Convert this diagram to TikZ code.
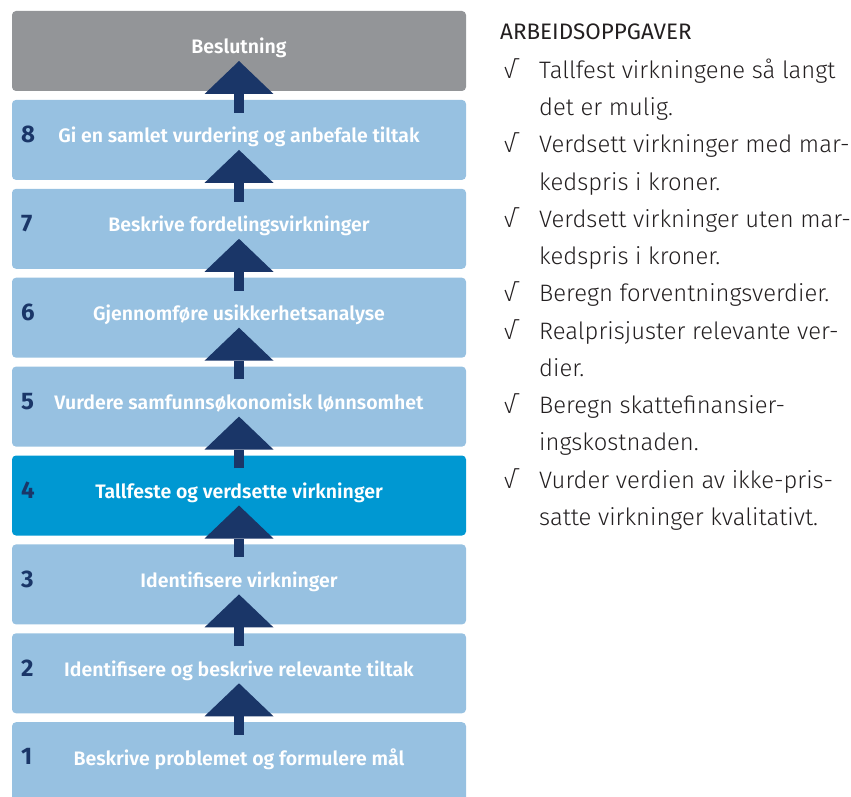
\documentclass[tikz,border=0pt]{standalone}
\usepackage{fontspec}
\setmainfont{Fira Sans}
\newfontfamily\boxfont{Fira Sans SemiBold}
\newfontfamily\listfont{Fira Sans Light}
\usepackage{tikz}
\usetikzlibrary{shapes,arrows.meta,positioning,calc}
\definecolor{stepblue}{HTML}{97C1E1}
\definecolor{stepactive}{HTML}{0098D2}
\definecolor{stepgray}{HTML}{939598}
\definecolor{stepnavy}{HTML}{1A3668}
\definecolor{tasktext}{HTML}{231F20}
\tikzstyle{stepbox} = [rectangle, rounded corners=4pt, fill=stepblue, minimum width=454pt,
    minimum height=80pt, inner sep=0pt, text=white, font=\boxfont\fontsize{19.5}{23}\selectfont,
    text height=14.6pt, text depth=8.8pt]
\tikzstyle{stepnum} = [anchor=base west, inner sep=0pt, text=stepnavy, font=\bfseries\fontsize{24}{28}\selectfont]
\tikzstyle{uparrow} = [-{Triangle[width=69pt,length=33pt,line width=0pt]}, line width=10pt, stepnavy]
\tikzstyle{tasklist} = [anchor=base west, inner sep=0pt, text=tasktext, font=\listfont\fontsize{23.8}{37.25}\selectfont]

\begin{document}
\begin{tikzpicture}[x=1pt, y=1pt, node distance=8.5pt]
\useasboundingbox (0,0) rectangle (851,-797);
\node[stepbox, fill=stepgray] (beslut) at (239,-51) {Beslutning};
\node[stepbox, below=of beslut] (s8) {Gi en samlet vurdering og anbefale tiltak};
\node[stepbox, below=of s8] (s7) {Beskrive fordelingsvirkninger};
\node[stepbox, below=of s7] (s6) {Gjennomføre usikkerhetsanalyse};
\node[stepbox, below=of s6] (s5) {Vurdere samfunnsøkonomisk lønnsomhet};
\node[stepbox, below=of s5, fill=stepactive] (s4) {Tallfeste og verdsette virkninger};
\node[stepbox, below=of s4] (s3) {Identifisere virkninger};
\node[stepbox, below=of s3] (s2) {Identifisere og beskrive relevante tiltak};
\node[stepbox, below=of s2] (s1) {Beskrive problemet og formulere mål};

\node[stepnum] (n8) at ($(s8.west)+(9,-2.7)$) {8};
\node[stepnum] (n7) at ($(s7.west)+(9,-2.7)$) {7};
\node[stepnum] (n6) at ($(s6.west)+(9,-2.7)$) {6};
\node[stepnum] (n5) at ($(s5.west)+(9,-2.7)$) {5};
\node[stepnum] (n4) at ($(s4.west)+(9,-2.7)$) {4};
\node[stepnum] (n3) at ($(s3.west)+(9,-2.7)$) {3};
\node[stepnum] (n2) at ($(s2.west)+(9,-2.7)$) {2};
\node[stepnum] (n1) at ($(s1.west)+(9,-2.7)$) {1};

% steps lead upwards to the decision
\draw[uparrow] ($(s8.north)+(0,-13)$) -- ($(beslut.center)+(0,-10)$);
\draw[uparrow] ($(s7.north)+(0,-13)$) -- ($(s8.center)+(0,-10)$);
\draw[uparrow] ($(s6.north)+(0,-13)$) -- ($(s7.center)+(0,-10)$);
\draw[uparrow] ($(s5.north)+(0,-13)$) -- ($(s6.center)+(0,-10)$);
\draw[uparrow] ($(s4.north)+(0,-13)$) -- ($(s5.center)+(0,-10)$);
\draw[uparrow] ($(s3.north)+(0,-13)$) -- ($(s4.center)+(0,-10)$);
\draw[uparrow] ($(s2.north)+(0,-13)$) -- ($(s3.center)+(0,-10)$);
\draw[uparrow] ($(s1.north)+(0,-13)$) -- ($(s2.center)+(0,-10)$);

\node[anchor=base west, inner sep=0pt, text=tasktext, font=\fontsize{22.4}{26}\selectfont] (heading) at (500,-40) {ARBEIDSOPPGAVER};
\node[tasklist] (tasks) at (503,-78.5) {%
\begin{tabular}[t]{@{}p{36pt}@{}l@{}}
√ & Tallfest virkningene så langt\\
  & det er mulig.\\
√ & Verdsett virkninger med mar-\\
  & kedspris i kroner.\\
√ & Verdsett virkninger uten mar-\\
  & kedspris i kroner.\\
√ & Beregn forventningsverdier.\\
√ & Realprisjuster relevante ver-\\
  & dier.\\
√ & Beregn skattefinansier-\\
  & ingskostnaden.\\
√ & Vurder verdien av ikke-pris-\\
  & satte virkninger kvalitativt.
\end{tabular}};
\end{tikzpicture}
\end{document}
